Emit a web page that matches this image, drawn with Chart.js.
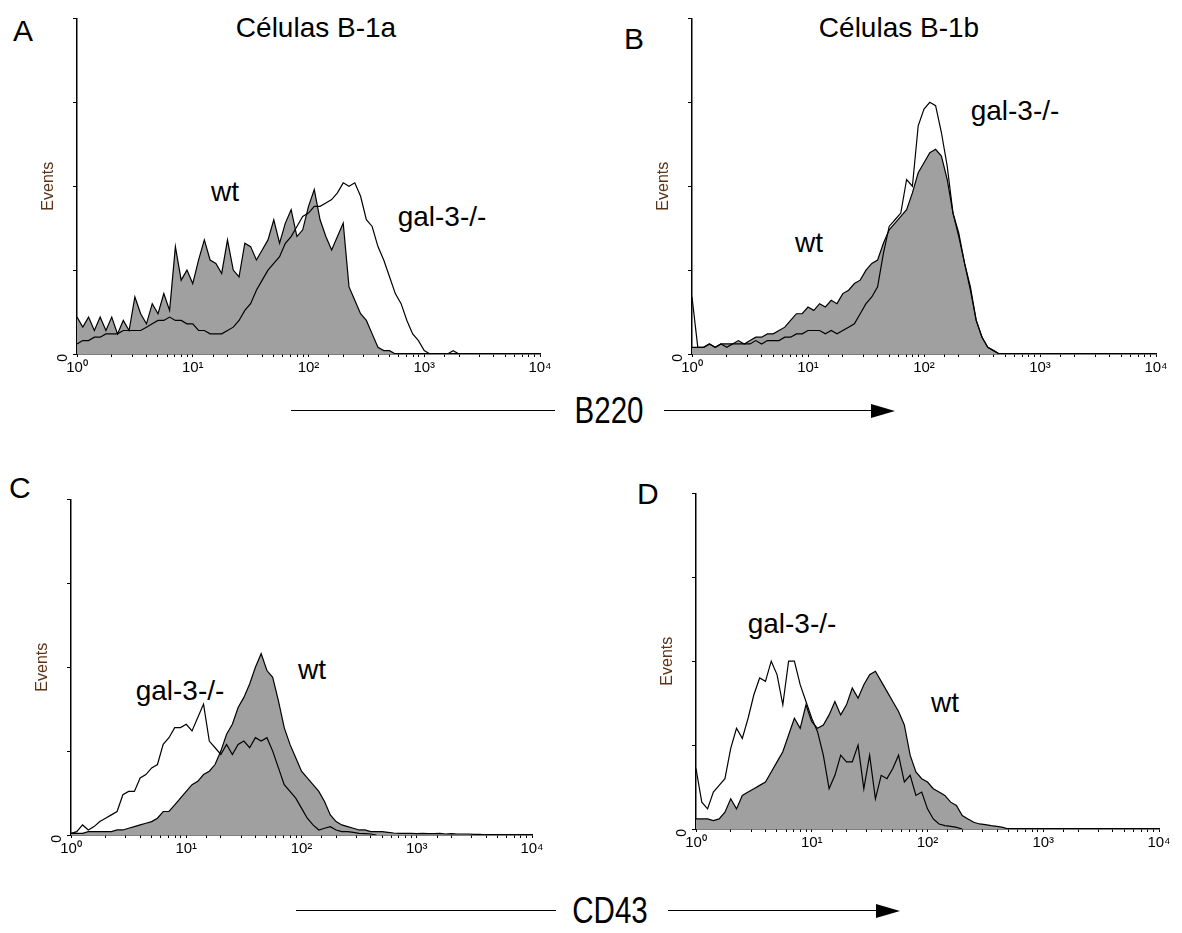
<!DOCTYPE html>
<html>
<head>
<meta charset="utf-8">
<script src="https://cdn.jsdelivr.net/npm/chart.js@4.4.0/dist/chart.umd.min.js"></script>
<style>
  body { margin: 0; background: #fff; width: 1182px; height: 933px; position: relative; overflow: hidden;
         font-family: "Liberation Sans", Arial, sans-serif; }
  .box { position: absolute; }
  .t { position: absolute; line-height: 1; white-space: nowrap; color: #000; }
  .c { transform: translateX(-50%); }
  .big { font-size: 28px; }
  .letter { font-size: 30px; }
  .axlab { font-size: 36px; transform: translate(-50%, -50%) scaleX(0.82); }
  .hl { position: absolute; height: 0; border-top: 1.5px solid #000; }
  .head { position: absolute; width: 0; height: 0; border-top: 7px solid transparent;
          border-bottom: 7px solid transparent; border-left: 24px solid #000; }
</style>
</head>
<body>

<div class="t letter" style="left:13px;top:16px">A</div>
<div class="t letter" style="left:624px;top:24px">B</div>
<div class="t letter" style="left:9px;top:473px">C</div>
<div class="t letter" style="left:637px;top:479px">D</div>

<div class="t big c" style="left:316px;top:14px">Células B-1a</div>
<div class="t big c" style="left:899px;top:14px">Células B-1b</div>

<div class="t big c" style="left:225px;top:178px">wt</div>
<div class="t big c" style="left:442px;top:203px">gal-3-/-</div>
<div class="t big c" style="left:1015px;top:97px">gal-3-/-</div>
<div class="t big c" style="left:809px;top:229px">wt</div>
<div class="t big c" style="left:180px;top:677px">gal-3-/-</div>
<div class="t big c" style="left:312px;top:656px">wt</div>
<div class="t big c" style="left:792px;top:610px">gal-3-/-</div>
<div class="t big c" style="left:945px;top:689px">wt</div>

<div class="hl" style="left:291px;width:264px;top:410px"></div>
<div class="t axlab" style="left:609px;top:411px">B220</div>
<div class="hl" style="left:664px;width:210px;top:410px"></div>
<div class="head" style="left:871px;top:404px"></div>

<div class="hl" style="left:296px;width:260px;top:910px"></div>
<div class="t axlab" style="left:610px;top:911px">CD43</div>
<div class="hl" style="left:668px;width:210px;top:910px"></div>
<div class="head" style="left:876px;top:904px"></div>

<script>
// channel spacing on the log axis (decades per channel)
var STEP = 0.05;
var decadeLabels = ['10\u2070', '10\u00b9', '10\u00b2', '10\u00b3', '10\u2074'];

// panel A - Células B-1a, B220
var aWt = [11,8,11,7,11,7,11,6,10,7,17,12,9,15,12,18,13,32,22,25,21,28,34,28,27,24,34,25,23,33,32,28,31,34,40,33,39,43,35,37,44,49,40,35,31,35,39,20,16,12,10,6,2,1,1,0];
var aGal = [3,4,4,5,5,6,6,6,7,7,7,7,8,9,10,10,11,10,10,9,9,7,7,6,6,6,7,8,10,13,15,19,22,25,27,29,33,35,38,41,42,44,44,45,46,48,51,50,51,47,40,38,32,28,23,18,15,10,6,4,1,0,0,0,0,1,0];

// panel B - Células B-1b, B220
var bWt = [2,2,2,3,2,3,3,3,4,3,4,5,5,6,6,7,8,10,12,12,14,13,15,14,16,15,18,19,21,22,25,27,28,33,37,39,41,43,48,54,57,60,61,59,52,42,35,27,20,10,5,2,1,0];
var bGal = [17,2,2,3,2,3,2,3,3,3,3,4,3,4,4,4,5,5,6,6,7,7,7,6,7,6,7,8,9,12,15,17,20,30,38,40,42,52,50,68,73,75,74,66,56,42,36,27,19,10,5,2,1,0];

// panel C - CD43
var cWt = [0.5,0.5,0.5,1,1,1,1,1,1.5,1.5,2,2.5,3,3.5,4,5,7,7,9,11,13,15,16,18,19,21,25,30,33,38,41,45,50,54,49,47,40,32,27,23,19,17,15,13,10,6,4,3,2.5,2,1.5,1.5,1,1,1,0.8,0.6,0.5,0.5,0.5,0.4,0.5,0.4,0.4,0.5,0.3,0.4,0.3,0.3,0.3,0.2,0.2,0];
var cGal = [0.5,1,3,1.5,2.5,4,5,6,7,12,13,13,17,18,20,21,27,29,32,32,33,31,35,39,28,26,24,27,24,27,28,26,29,28,29,25,20,15,13,11,8,5,3,1.5,2,2.5,1.5,1,1,0.8,0.5,0.4,0.3,0];

// panel D - CD43
var dWt = [3,3,3,2.5,3,5,9,6,10,11,12,13,14,17,20,23,28,33,30,37,32,30,31,34,38,34,37,42,39,43,46,47,44,41,38,35,31,22,17,15,14,12,11,10,8,7,4,3,2,1.5,1.3,1,0.8,0.5,0];
var dGal = [18,8,6,11,13,15,24,30,27,33,40,45,44,50,46,37,50,50,43,38,33,29,22,12,16,22,20,20,25,12,22,9,16,15,18,22,14,16,10,11,6,3,1.5,1,0.8,0.5,0];

var panels = [
  { left: 77,  right: 540,  top: 12,  bottom: 354, wt: aWt, gal: aGal },
  { left: 692, right: 1156, top: 12,  bottom: 354, wt: bWt, gal: bGal },
  { left: 71,  right: 532,  top: 493, bottom: 835, wt: cWt, gal: cGal },
  { left: 696, right: 1159, top: 487, bottom: 829, wt: dWt, gal: dGal }
];

var Y_W = 38, PAD_T = 12, PAD_R = 25, X_H = 30;

function toPoints(arr) {
  return arr.map(function(v, i) { return { x: Math.pow(10, i * STEP), y: v }; });
}

function decadeLabel(v) {
  var l = Math.log10(v);
  var e = Math.round(l);
  if (Math.abs(l - e) < 1e-6 && e >= 0 && e < decadeLabels.length) return decadeLabels[e];
  return '';
}

panels.forEach(function(p) {
  var box = document.createElement('div');
  box.className = 'box';
  box.style.left = (p.left - Y_W) + 'px';
  box.style.top = (p.top - PAD_T) + 'px';
  box.style.width = (p.right - p.left + Y_W + PAD_R) + 'px';
  box.style.height = (p.bottom - p.top + PAD_T + X_H) + 'px';
  var cv = document.createElement('canvas');
  box.appendChild(cv);
  document.body.appendChild(box);

  new Chart(cv.getContext('2d'), {
    type: 'line',
    data: {
      datasets: [
        {
          label: 'gal-3-/-',
          data: toPoints(p.gal),
          borderColor: '#000',
          borderWidth: 1.2,
          pointRadius: 0,
          fill: false,
          tension: 0
        },
        {
          label: 'wt',
          data: toPoints(p.wt),
          borderColor: '#000',
          borderWidth: 1.2,
          backgroundColor: '#a0a0a0',
          pointRadius: 0,
          fill: 'origin',
          tension: 0
        }
      ]
    },
    options: {
      responsive: true,
      maintainAspectRatio: false,
      animation: false,
      layout: { padding: { top: PAD_T, right: PAD_R, left: 0, bottom: 0 } },
      plugins: { legend: { display: false }, tooltip: { enabled: false } },
      scales: {
        x: {
          type: 'logarithmic',
          min: 1,
          max: 10000,
          afterFit: function(s) { s.height = X_H; },
          grid: { drawOnChartArea: false, drawTicks: true, tickLength: 3, tickColor: '#000' },
          border: { color: '#000', width: 1.5 },
          ticks: {
            autoSkip: false, minRotation: 0, maxRotation: 0, padding: 2, color: '#000',
            font: { size: 15, family: '"Liberation Sans", Arial, sans-serif' },
            callback: function(v) { return decadeLabel(v); }
          }
        },
        y: {
          min: 0,
          max: 100,
          afterFit: function(s) { s.width = Y_W; },
          grid: { drawOnChartArea: false, drawTicks: true, tickLength: 4, tickColor: '#000' },
          border: { color: '#000', width: 1.5 },
          ticks: {
            stepSize: 25, minRotation: 90, maxRotation: 90, padding: 10, color: '#000',
            font: { size: 14, family: '"Liberation Sans", Arial, sans-serif' },
            callback: function(v) { return v === 0 ? '0' : ''; }
          },
          title: {
            display: true, text: 'Events', color: '#5c3317', padding: 0,
            font: { size: 16, family: '"Liberation Sans", Arial, sans-serif' }
          }
        }
      }
    }
  });
});
</script>
</body>
</html>
